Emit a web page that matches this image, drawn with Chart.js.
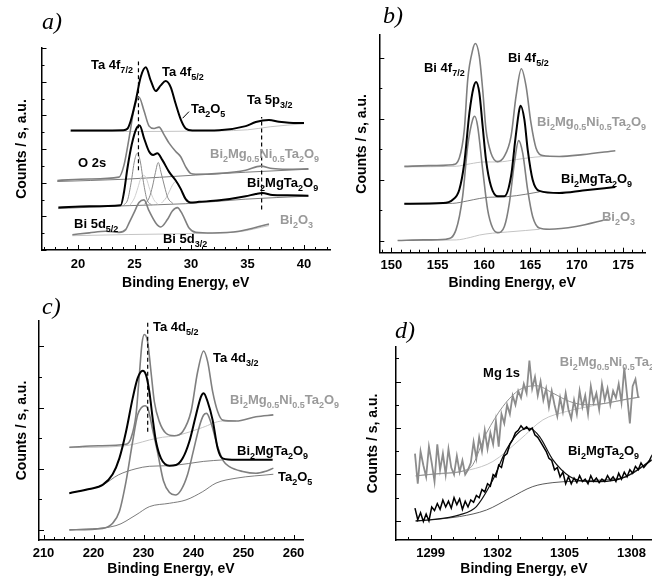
<!DOCTYPE html>
<html>
<head>
<meta charset="utf-8">
<script src="https://cdn.jsdelivr.net/npm/chart.js@4.4.0/dist/chart.umd.min.js"></script>
<style>
  html, body { margin: 0; padding: 0; background: #fff; }
  #wrap { position: relative; width: 652px; height: 578px; overflow: hidden; }
  canvas { position: absolute; left: 0; top: 0; }
  .tag { position: absolute; font: italic 24px "Liberation Serif", "Times New Roman", serif; line-height: 1; color: #000; }
</style>
</head>
<body>
<div id="wrap">
  <canvas id="chartA" width="652" height="578"></canvas>
  <canvas id="chartB" width="652" height="578"></canvas>
  <canvas id="chartC" width="652" height="578"></canvas>
  <canvas id="chartD" width="652" height="578"></canvas>
  <span class="tag" style="left:42px;top:9px">a)</span>
  <span class="tag" style="left:383px;top:3px">b)</span>
  <span class="tag" style="left:42px;top:294px">c)</span>
  <span class="tag" style="left:395px;top:318px">d)</span>
</div>
<script>
// ---- panel a: Ta 4f / Bi 5d region ----
const aTicks = [20, 25, 30, 35, 40];
const aTa2O5E = [19.35, 22.0, 24.0, 24.37, 24.66, 25.11, 25.55, 26.0, 26.43, 26.88, 27.32, 27.76, 28.2, 28.65, 29.09, 29.53, 30.12, 32.5, 34.84, 35.73, 36.9, 37.79, 38.68, 40.0];
const aTa2O5 = [7.10, 7.10, 7.12, 7.20, 7.66, 8.87, 10.28, 10.85, 10.08, 9.44, 9.78, 10.04, 9.68, 8.67, 7.76, 7.22, 7.10, 7.12, 7.36, 7.60, 7.72, 7.62, 7.56, 7.54];
const aTa2O5BgE = [19.35, 25.0, 30.0, 35.0, 37.0, 40.0];
const aTa2O5Bg = [7.04, 7.04, 7.06, 7.14, 7.32, 7.50];
const aNiE = [18.17, 21.0, 23.63, 24.07, 24.52, 24.96, 25.40, 25.84, 26.29, 26.73, 27.17, 27.61, 28.06, 28.65, 29.09, 29.53, 29.97, 30.42, 32.5, 34.84, 36.17, 37.2, 38.5, 40.39];
const aNi = [4.13, 4.22, 4.33, 5.04, 6.65, 8.37, 9.07, 8.27, 7.36, 7.22, 7.30, 6.85, 6.35, 5.85, 5.54, 4.94, 4.55, 4.50, 4.55, 4.74, 4.98, 4.84, 4.80, 4.82];
const aNiBgE = [18.17, 24.0, 30.4, 34.8, 40.39];
const aNiBg = [4.07, 4.20, 4.45, 4.62, 4.80];
const aMgE = [18.26, 21.0, 23.78, 24.07, 24.37, 24.75, 25.17, 25.46, 25.84, 26.29, 26.64, 27.02, 27.47, 28.06, 28.65, 29.09, 29.53, 29.97, 30.71, 32.5, 34.84, 35.73, 36.32, 37.2, 38.5, 40.39];
const aMg = [2.52, 2.60, 2.66, 3.43, 4.84, 6.25, 7.22, 7.40, 6.65, 5.85, 5.65, 5.75, 5.34, 4.64, 4.13, 3.63, 3.02, 2.82, 2.86, 2.95, 3.19, 3.33, 3.39, 3.27, 3.25, 3.23];
const aMgBgE = [18.26, 23.8, 29.5, 34.8, 40.39];
const aMgBg = [2.46, 2.62, 2.75, 3.02, 3.20];
const aFit1E = [24.0, 24.4, 24.7, 25.0, 25.25, 25.5, 25.8, 26.1, 26.5];
const aFit1 = [2.64, 3.0, 4.0, 5.3, 5.75, 5.3, 4.0, 3.0, 2.68];
const aFit2E = [24.6, 25.0, 25.3, 25.55, 25.8, 26.05, 26.35, 26.7, 27.1];
const aFit2 = [2.66, 3.1, 3.7, 4.25, 4.44, 4.25, 3.6, 3.0, 2.7];
const aFit3E = [25.9, 26.3, 26.6, 26.85, 27.1, 27.35, 27.65, 27.95, 28.4];
const aFit3 = [2.72, 3.1, 3.8, 4.6, 5.2, 4.6, 3.8, 3.1, 2.76];
const aFit4E = [27.4, 27.8, 28.1, 28.4, 28.65, 28.9, 29.2, 29.5, 29.9];
const aFit4 = [2.8, 3.1, 3.5, 3.9, 4.07, 3.9, 3.5, 3.1, 2.85];
const aBiE = [19.5, 21.0, 22.45, 23.63, 24.22, 24.52, 24.96, 25.40, 25.84, 26.29, 26.88, 27.32, 27.91, 28.35, 28.79, 29.24, 29.83, 30.42, 31.89, 34.25, 36.9];
const aBi = [0.91, 1.02, 1.11, 1.05, 1.21, 1.61, 2.22, 2.82, 2.98, 2.32, 1.61, 1.37, 1.81, 2.32, 2.52, 2.12, 1.31, 1.05, 1.01, 1.11, 1.55];
const aBiBgE = [19.5, 24.5, 30.4, 34.2, 36.9];
const aBiBg = [0.85, 0.92, 0.98, 1.08, 1.45];
const aPeakLines = [[25.35, 4.74, 11.2], [36.25, 2.4, 7.9]];
const aLeaderE = [29.82, 29.26];
const aLeader = [8.22, 7.83];

// ---- panel b: Bi 4f ----
const bTicks = [150, 155, 160, 165, 170, 175];
const bNiE = [151.40, 154.0, 156.62, 157.33, 157.87, 158.24, 158.78, 159.06, 159.49, 159.85, 160.21, 160.75, 161.47, 162.18, 162.91, 163.45, 164.02, 164.53, 165.06, 165.60, 166.33, 168.12, 170.64, 174.16];
const bNi = [2.435, 2.46, 2.49, 2.71, 3.64, 5.29, 6.27, 6.47, 6.05, 4.96, 3.64, 2.87, 2.59, 2.76, 3.42, 4.74, 5.64, 5.07, 3.86, 3.04, 2.79, 2.76, 2.82, 2.95];
const bNiBgE = [151.4, 157.0, 158.5, 160.0, 161.5, 163.5, 165.5, 167.0];
const bNiBg = [2.42, 2.44, 2.52, 2.58, 2.58, 2.66, 2.74, 2.77];
const bMgE = [151.4, 155.54, 156.62, 157.33, 157.87, 158.42, 158.85, 159.14, 159.49, 159.85, 160.21, 160.75, 161.47, 162.18, 162.91, 163.37, 163.80, 163.95, 164.35, 164.71, 165.24, 165.96, 168.12, 170.64, 174.16];
const bMg = [1.207, 1.23, 1.34, 1.67, 2.55, 4.19, 5.01, 5.21, 4.85, 3.75, 2.65, 1.78, 1.45, 1.45, 2.11, 3.31, 4.30, 4.43, 3.97, 2.98, 2.0, 1.63, 1.56, 1.64, 1.76];
const bMgBgE = [151.4, 156.6, 158.2, 159.5, 160.5, 162.5, 164.5, 166.0];
const bMgBg = [1.2, 1.22, 1.3, 1.38, 1.42, 1.44, 1.52, 1.6];
const bBiE = [150.68, 153.5, 155.9, 156.97, 157.69, 158.23, 158.77, 158.99, 159.31, 159.85, 160.39, 160.93, 161.47, 162.19, 162.73, 163.27, 163.73, 164.17, 164.7, 165.24, 165.96, 167.04, 169.92, 173.34];
const bBi = [0.0, 0.02, 0.044, 0.35, 1.45, 3.09, 3.97, 4.08, 3.75, 2.33, 1.01, 0.41, 0.26, 0.46, 1.23, 2.55, 3.28, 2.87, 1.67, 0.79, 0.41, 0.37, 0.46, 0.70];
const bBiBgE = [150.68, 157.0, 158.5, 159.5, 160.9, 162.5, 164.5, 166.0];
const bBiBg = [0.0, 0.02, 0.1, 0.18, 0.24, 0.28, 0.33, 0.37];

// ---- panel c: Ta 4d ----
const cTicks = [210, 220, 230, 240, 250, 260];
const cNiE = [215.17, 221.0, 226.5, 227.5, 228.5, 229.17, 229.7, 230.17, 230.83, 231.5, 232.17, 233.17, 234.5, 236.17, 237.83, 239.5, 240.83, 242.03, 242.83, 243.83, 244.83, 245.83, 248.5, 252.5, 255.97];
const cNi = [2.70, 2.75, 2.80, 3.00, 3.76, 5.07, 6.10, 6.39, 6.15, 5.17, 4.19, 3.54, 3.16, 3.08, 3.21, 3.87, 5.17, 5.85, 5.50, 4.52, 3.87, 3.59, 3.56, 3.70, 3.76];
const cNiBgE = [215.17, 225.83, 228.5, 231.17, 233.83, 236.17, 239.17, 241.83, 245.83, 248.5];
const cNiBg = [2.69, 2.74, 2.82, 2.94, 3.03, 3.07, 3.20, 3.35, 3.56, 3.56];
const cMgE = [215.17, 219.17, 221.83, 223.83, 225.17, 226.5, 227.83, 228.83, 229.83, 230.5, 231.17, 231.83, 232.5, 233.5, 235.17, 236.5, 237.83, 239.17, 240.5, 241.5, 242.03, 242.83, 243.83, 244.83, 245.83, 248.5, 255.83];
const cMg = [1.20, 1.34, 1.47, 1.82, 2.34, 3.21, 4.30, 4.96, 5.20, 5.07, 4.52, 3.65, 2.89, 2.34, 2.10, 2.12, 2.34, 2.89, 3.76, 4.36, 4.47, 4.19, 3.59, 2.67, 2.34, 2.29, 2.29];
const cMgBgE = [215.17, 221.83, 225.0, 228.5, 231.17, 235.17, 239.0, 242.0, 246.0];
const cMgBg = [1.2, 1.47, 1.8, 2.0, 2.08, 2.1, 2.17, 2.24, 2.29];
const cTaE = [215.17, 221.83, 223.83, 225.17, 226.5, 227.83, 228.83, 229.6, 230.3, 231.0, 231.8, 232.8, 234.0, 235.2, 236.37, 237.5, 238.8, 240.0, 241.2, 242.0, 242.63, 243.5, 244.83, 246.0, 247.17, 249.83, 252.5, 254.5, 255.97];
const cTa = [0.0, 0.05, 0.22, 0.60, 1.58, 2.89, 3.76, 4.0, 4.06, 3.9, 3.3, 2.55, 1.6, 1.22, 1.14, 1.3, 1.8, 2.6, 3.4, 3.75, 3.81, 3.5, 2.72, 2.25, 2.07, 1.91, 1.85, 1.92, 2.02];
const cTaBgE = [215.17, 224.5, 228.5, 231.17, 235.17, 238.5, 241.83, 244.5, 248.5, 255.97];
const cTaBg = [0.0, 0.14, 0.49, 0.76, 0.87, 0.98, 1.25, 1.53, 1.69, 1.82];
const cPeakLines = [[230.84, 3.21, 6.81]];

// ---- panel d: Mg 1s (raw spectra on a 0.125 eV grid) ----
const dTicks = [1299, 1302, 1305, 1308];
const dGridStart = 1298.3, dGridStep = 0.125;
const dNiRaw = [2.9, 1.6, 3.0, 2.4, 1.9, 3.2, 2.5, 1.7, 3.3, 2.2, 2.9, 2.0, 3.1, 2.3, 2.0, 2.8, 2.1, 2.6, 2.0, 2.2,
  2.5, 3.4, 2.7, 3.6, 3.0, 3.9, 3.1, 3.8, 3.3, 4.3, 3.2, 4.6, 4.2, 5.0, 4.6, 5.4, 5.0, 5.6, 5.3, 5.9,
  5.5, 6.9, 5.7, 6.2, 5.4, 6.0, 5.2, 5.7, 4.9, 5.6, 5.0, 4.5, 5.3, 4.7, 5.5, 4.8, 4.4, 5.2, 4.6, 5.6,
  4.9, 5.4, 4.6, 5.8, 5.1, 5.5, 4.8, 5.9, 5.2, 5.7, 5.0, 5.6, 5.3, 5.9, 5.1, 6.6, 5.4, 4.2, 5.8, 6.1, 5.3];
const dMgRaw = [0.55, 0.05, 0.35, -0.02, 0.30, 0.0, 0.6, 0.45, 0.75, 0.5, 0.9, 0.6, 0.85, 0.55, 1.0, 0.7, 0.95, 0.5, 0.85, 0.6,
  0.9, 0.8, 1.1, 1.0, 1.35, 1.25, 1.6, 1.5, 2.0, 1.9, 2.4, 2.3, 2.8, 2.9, 3.3, 3.5, 3.8, 3.9, 4.1, 3.95,
  4.05, 3.9, 4.0, 3.7, 3.6, 3.4, 3.2, 3.0, 2.7, 2.6, 2.2, 2.3, 1.9, 2.1, 1.6, 1.9, 1.6, 1.85, 1.65, 1.95,
  1.7, 1.8, 1.6, 1.95, 1.7, 1.85, 1.65, 1.8, 1.7, 1.95, 1.75, 1.9, 1.7, 2.05, 1.8, 2.1, 1.9, 2.2, 2.05, 2.35,
  2.2, 2.5, 2.3, 2.45, 2.6, 2.85];
const dNiFitE = [1298.33, 1299.5, 1300.75, 1301.5, 1302.24, 1302.99, 1303.73, 1304.48, 1305.23, 1305.97, 1306.87, 1307.76, 1308.36];
const dNiFit = [1.94, 2.05, 2.27, 3.78, 4.93, 5.65, 5.82, 5.50, 5.14, 5.0, 5.07, 5.24, 5.33];
const dNiBgE = [1298.33, 1300.75, 1301.79, 1302.99, 1304.03, 1305.08, 1306.27, 1308.36];
const dNiBg = [1.94, 2.2, 2.56, 3.49, 4.35, 4.71, 4.96, 5.33];
const dMgFitE = [1298.33, 1298.96, 1300.3, 1301.05, 1301.79, 1302.39, 1302.99, 1303.44, 1303.88, 1304.48, 1305.23, 1305.67, 1306.57, 1307.76, 1308.91];
const dMgFit = [0.0, 0.04, 0.26, 0.62, 1.77, 3.06, 3.85, 3.99, 3.63, 2.63, 1.91, 1.74, 1.69, 1.91, 2.63];
const dMgBgE = [1298.33, 1300.3, 1301.5, 1302.54, 1303.58, 1304.48, 1306.27, 1307.76, 1308.91];
const dMgBg = [0.0, 0.19, 0.47, 0.98, 1.48, 1.65, 1.74, 1.91, 2.6];

const GRAY = '#7f7f7f';
const LABEL_GRAY = '#9a9a9a';
const LIGHT = '#c4c4c4';
const DARK = '#5a5a5a';

const aLabels = [
  ['Ta 4f_{7/2}', 21.15, 10.75, '#000'],
  ['Ta 4f_{5/2}', 27.43, 10.34, '#000'],
  ['Ta_{2}O_{5}', 30.0, 8.14, '#000'],
  ['Ta 5p_{3/2}', 34.96, 8.67, '#000'],
  ['Bi_{2}Mg_{0.5}Ni_{0.5}Ta_{2}O_{9}', 31.68, 5.47, LABEL_GRAY],
  ['O 2s', 20.0, 4.93, '#000'],
  ['Bi_{2}MgTa_{2}O_{9}', 34.96, 3.74, '#000'],
  ['Bi 5d_{5/2}', 19.65, 1.31, '#000'],
  ['Bi_{2}O_{3}', 37.87, 1.54, LABEL_GRAY],
  ['Bi 5d_{3/2}', 27.52, 0.42, '#000']
];
const bLabels = [
  ['Bi 4f_{7/2}', 153.52, 5.52, '#000'],
  ['Bi 4f_{5/2}', 162.58, 5.85, '#000'],
  ['Bi_{2}Mg_{0.5}Ni_{0.5}Ta_{2}O_{9}', 165.71, 3.77, LABEL_GRAY],
  ['Bi_{2}MgTa_{2}O_{9}', 168.3, 1.9, '#000'],
  ['Bi_{2}O_{3}', 172.72, 0.65, LABEL_GRAY]
];
const cLabels = [
  ['Ta 4d_{5/2}', 231.9, 6.5, '#000'],
  ['Ta 4d_{3/2}', 243.9, 5.49, '#000'],
  ['Bi_{2}Mg_{0.5}Ni_{0.5}Ta_{2}O_{9}', 247.3, 4.12, LABEL_GRAY],
  ['Bi_{2}MgTa_{2}O_{9}', 248.7, 2.45, '#000'],
  ['Ta_{2}O_{5}', 256.9, 1.6, '#000']
];
const dLabels = [
  ['Bi_{2}Mg_{0.5}Ni_{0.5}Ta_{2}O_{9}', 1304.79, 6.68, LABEL_GRAY],
  ['Mg 1s', 1301.35, 6.2, '#000'],
  ['Bi_{2}MgTa_{2}O_{9}', 1305.15, 2.84, '#000']
];

Chart.defaults.font.family = '"Liberation Sans", Arial, sans-serif';
Chart.defaults.color = '#000';

function pts(xs, ys) {
  return xs.map((v, i) => ({ x: v, y: ys[i] }));
}
function grid(values) {
  return values.map((v, i) => ({ x: dGridStart + i * dGridStep, y: v }));
}
function curve(data, color, width, extra) {
  return Object.assign({
    data, borderColor: color, borderWidth: width, pointRadius: 0, fill: false,
    cubicInterpolationMode: 'monotone'
  }, extra || {});
}
const straight = { cubicInterpolationMode: 'default', tension: 0 };
function peakLines(list) {
  return list.map(([e, lo, hi]) => curve([{ x: e, y: lo }, { x: e, y: hi }], '#000', 1.2,
    Object.assign({ borderDash: [4, 3] }, straight)));
}

// label with _{sub} parts
function drawRich(ctx, text, x, y, size, color) {
  const parts = text.split(/(_\{[^}]*\})/).filter(Boolean);
  let cx = x;
  ctx.fillStyle = color;
  ctx.textAlign = 'left';
  ctx.textBaseline = 'alphabetic';
  parts.forEach(p => {
    const sub = p.startsWith('_{');
    const t = sub ? p.slice(2, -1) : p;
    ctx.font = 'bold ' + (sub ? Math.round(size * 0.7) : size) + 'px "Liberation Sans", Arial, sans-serif';
    ctx.fillText(t, cx, sub ? y + size * 0.3 : y);
    cx += ctx.measureText(t).width;
  });
}

// inward ticks + text labels
function decor(p) {
  return {
    id: 'decor',
    afterDraw(chart) {
      const { ctx, chartArea: area, scales: { x, y } } = chart;
      ctx.save();
      ctx.strokeStyle = '#000';
      ctx.lineWidth = 1;
      ctx.beginPath();
      const ticks = (scale, step, major, horiz) => {
        const first = Math.ceil(scale.min / step - 1e-9);
        const last = Math.floor(scale.max / step + 1e-9);
        for (let k = first; k <= last; k++) {
          const v = k * step;
          const isMajor = Math.abs(v / major - Math.round(v / major)) < 1e-6;
          const len = isMajor ? 5 : 3;
          const px = Math.round(scale.getPixelForValue(v)) + 0.5;
          if (horiz) { ctx.moveTo(px, area.bottom); ctx.lineTo(px, area.bottom - len); }
          else { ctx.moveTo(area.left, px); ctx.lineTo(area.left + len, px); }
        }
      };
      ticks(x, p.xStep, p.xMajor, true);
      ticks(y, 1, p.yMajor, false);
      ctx.stroke();
      p.labels.forEach(([text, lx, ly, color]) =>
        drawRich(ctx, text, x.getPixelForValue(lx), y.getPixelForValue(ly), 13, color));
      ctx.restore();
    }
  };
}

function makePanel(id, p) {
  new Chart(document.getElementById(id), {
    type: 'line',
    data: { datasets: p.datasets },
    options: {
      responsive: false,
      animation: false,
      events: [],
      layout: { padding: { left: p.box.left, top: p.area.top, right: 652 - p.area.right, bottom: 578 - p.box.bottom } },
      plugins: { legend: { display: false }, tooltip: { enabled: false } },
      scales: {
        x: {
          type: 'linear', min: p.xMin, max: p.xMax,
          grid: { display: false, drawTicks: false },
          border: { display: true, color: '#000', width: 1.5 },
          ticks: { padding: p.tickPad, maxRotation: 0, autoSkip: false, color: '#000',
                   font: { size: 13, weight: 'bold' }, callback: v => String(v) },
          afterBuildTicks: s => { s.ticks = p.ticks.map(v => ({ value: v })); },
          afterFit: s => { s.height = p.box.bottom - p.area.bottom; },
          title: { display: true, text: 'Binding Energy, eV', color: '#000', padding: 0,
                   font: { size: 14, weight: 'bold' } }
        },
        y: {
          type: 'linear', min: p.yMin, max: p.yMax,
          grid: { display: false, drawTicks: false },
          border: { display: true, color: '#000', width: 1.5 },
          ticks: { display: false },
          afterFit: s => { s.width = p.area.left - p.box.left; },
          title: { display: true, text: 'Counts / s, a.u.', color: '#000', padding: 0,
                   font: { size: 14, weight: 'bold' } }
        }
      }
    },
    plugins: [decor(p)]
  });
}

makePanel('chartA', {
  area: { left: 41.5, top: 48, right: 330, bottom: 250 }, box: { left: 13.6, bottom: 291.4 },
  xMin: 16.77, xMax: 42.3, yMin: 0, yMax: 12, ticks: aTicks, tickPad: 7,
  xStep: 1, xMajor: 5, yMajor: 2, labels: aLabels,
  datasets: [
    curve(pts(aTa2O5E, aTa2O5), '#000', 2),
    curve(pts(aNiE, aNi), GRAY, 1.6),
    curve(pts(aMgE, aMg), '#000', 2),
    curve(pts(aBiE, aBi), GRAY, 1.6),
    ...peakLines(aPeakLines),
    curve(pts(aLeaderE, aLeader), '#000', 1, straight),
    curve(pts(aFit1E, aFit1), '#8a8a8a', 1),
    curve(pts(aFit3E, aFit3), '#8a8a8a', 1),
    curve(pts(aFit2E, aFit2), '#cfcfcf', 1),
    curve(pts(aFit4E, aFit4), '#c4c4c4', 1),
    curve(pts(aTa2O5BgE, aTa2O5Bg), LIGHT, 1),
    curve(pts(aNiBgE, aNiBg), DARK, 0.8),
    curve(pts(aMgBgE, aMgBg), DARK, 0.8),
    curve(pts(aBiBgE, aBiBg), LIGHT, 1)
  ]
});

makePanel('chartB', {
  area: { left: 379.3, top: 35, right: 645, bottom: 252.7 }, box: { left: 353.6, bottom: 291.4 },
  xMin: 148.7, xMax: 177.36, yMin: -0.4, yMax: 6.75, ticks: bTicks, tickPad: 5,
  xStep: 1, xMajor: 5, yMajor: 2, labels: bLabels,
  datasets: [
    curve(pts(bMgE, bMg), '#000', 2),
    curve(pts(bNiE, bNi), GRAY, 1.6),
    curve(pts(bBiE, bBi), GRAY, 1.6),
    curve(pts(bNiBgE, bNiBg), LIGHT, 1),
    curve(pts(bMgBgE, bMgBg), DARK, 0.8),
    curve(pts(bBiBgE, bBiBg), LIGHT, 1)
  ]
});

makePanel('chartC', {
  area: { left: 39, top: 321, right: 303, bottom: 540 }, box: { left: 13.6, bottom: 578 },
  xMin: 209.1, xMax: 261.9, yMin: -0.33, yMax: 6.83, ticks: cTicks, tickPad: 6,
  xStep: 2, xMajor: 10, yMajor: 2, labels: cLabels,
  datasets: [
    curve(pts(cMgE, cMg), '#000', 2),
    ...peakLines(cPeakLines),
    curve(pts(cNiE, cNi), GRAY, 1.6),
    curve(pts(cTaE, cTa), GRAY, 1.6),
    curve(pts(cNiBgE, cNiBg), LIGHT, 1),
    curve(pts(cMgBgE, cMgBg), DARK, 0.8),
    curve(pts(cTaBgE, cTaBg), DARK, 0.8)
  ]
});

makePanel('chartD', {
  area: { left: 396, top: 346.7, right: 652, bottom: 540 }, box: { left: 364.6, bottom: 578 },
  xMin: 1297.45, xMax: 1308.91, yMin: -0.82, yMax: 7.5, ticks: dTicks, tickPad: 6,
  xStep: 1, xMajor: 3, yMajor: 2, labels: dLabels,
  datasets: [
    curve(grid(dMgRaw), '#000', 1.5, straight),
    curve(grid(dNiRaw), '#8c8c8c', 1.8, straight),
    curve(pts(dMgFitE, dMgFit), '#111', 1.2),
    curve(pts(dNiFitE, dNiFit), '#909090', 1),
    curve(pts(dNiBgE, dNiBg), LIGHT, 1),
    curve(pts(dMgBgE, dMgBg), DARK, 1)
  ]
});
</script>
</body>
</html>
